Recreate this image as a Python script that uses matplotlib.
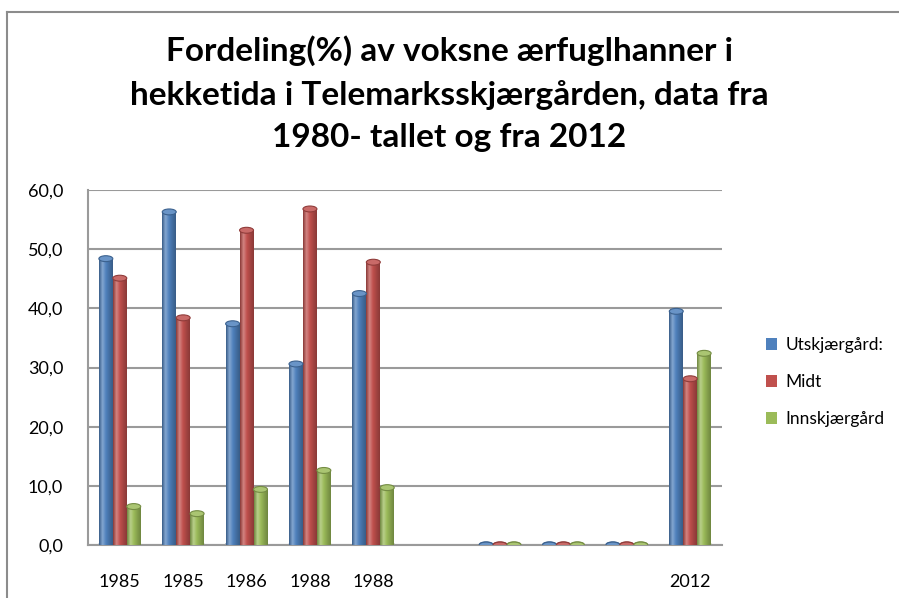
import numpy as np
import matplotlib
matplotlib.use('Agg')
import matplotlib.pyplot as plt
from matplotlib.colors import LinearSegmentedColormap, to_rgb
from matplotlib.patches import Ellipse, Patch
from matplotlib.lines import Line2D

categories = ['1985', '1985', '1986', '1988', '1988', '', '', '', '', '2012']
series_names = ['Utskjærgård:', 'Midt', 'Innskjærgård']
utskjaergard = [48.4, 56.3, 37.4, 30.6, 42.5, np.nan, 0, 0, 0, 39.5]
midt = [45.1, 38.4, 53.2, 56.8, 47.8, np.nan, 0, 0, 0, 28.1]
innskjaergard = [6.5, 5.3, 9.4, 12.6, 9.7, np.nan, 0, 0, 0, 32.4]
yticks = [0, 10, 20, 30, 40, 50, 60]

colors = ['#4F81BD', '#C0504D', '#9BBB59']
title = ('Fordeling(%) av voksne ærfuglhanner i\n'
         'hekketida i Telemarksskjærgården, data fra\n'
         '1980- tallet og fra 2012')

plt.rcParams['font.family'] = ['Lato', 'DejaVu Sans']

fig = plt.figure(figsize=(8.99, 5.98), dpi=100)
ax = fig.add_axes([0.098, 0.0886, 0.705, 0.5936])

# outer chart frame
fig.add_artist(Line2D([7/899, 1], [1-12/598, 1-12/598], color='#8c8c8c', lw=1.5))
fig.add_artist(Line2D([7/899, 7/899], [0, 1-12/598], color='#8c8c8c', lw=1.5))


def shade(c):
    r = np.array(to_rgb(c))
    light = r + (1 - r) * 0.3
    dark = r * 0.72
    return LinearSegmentedColormap.from_list('s', [dark, light, r, r * 0.85, dark])


x = np.arange(len(categories))
w = 0.22
grad = np.linspace(0, 1, 64).reshape(1, -1)
for i, (vals, col) in enumerate(zip([utskjaergard, midt, innskjaergard], colors)):
    xs = x + (i - 1) * w
    bars = ax.bar(xs, np.nan_to_num(vals), w, color=col, zorder=3)
    cm = shade(col)
    r = np.array(to_rgb(col))
    for b, v, xc in zip(bars, vals, xs):
        if np.isnan(v):
            b.set_visible(False)
            continue
        # bottom cap
        ax.add_patch(Ellipse((xc, 0), w, 1.0, color=r * 0.75, zorder=2))
        if v > 0:
            im = ax.imshow(grad, cmap=cm, aspect='auto', zorder=3.5,
                           extent=(xc - w/2, xc + w/2, 0, v))
            im.set_clip_path(b)
        # top cap
        ax.add_patch(Ellipse((xc, v), w, 1.0, facecolor=r + (1 - r) * 0.15,
                             edgecolor=r * 0.75, lw=0.8, zorder=4))

ax.set_xlim(-0.5, len(categories) - 0.5)
ax.set_ylim(0, 60)
ax.set_yticks(yticks)
ax.set_yticklabels([f'{t:.1f}'.replace('.', ',') for t in yticks], fontsize=13)
ax.set_xticks(x)
ax.set_xticklabels(categories, fontsize=13)
ax.tick_params(axis='y', length=0, pad=18)
ax.tick_params(axis='x', length=0, pad=21)
ax.grid(axis='y', color='#9a9a9a', lw=1.5, zorder=0)
for s in ['top', 'right']:
    ax.spines[s].set_visible(False)
for s in ['left', 'bottom']:
    ax.spines[s].set_color('#9a9a9a')
    ax.spines[s].set_linewidth(1.5)

fig.text(0.5, 1 - 35/598, title, ha='center', va='top', fontsize=24,
         fontweight='bold', linespacing=1.55)

handles = [Patch(facecolor=c) for c in colors]
fig.legend(handles, series_names, loc='center left',
           bbox_to_anchor=(750/899, 1 - 382/598), frameon=False,
           fontsize=12.5, handlelength=0.65, handleheight=0.65, handletextpad=0.5,
           labelspacing=1.2)

fig.savefig('out.png', dpi=100)
